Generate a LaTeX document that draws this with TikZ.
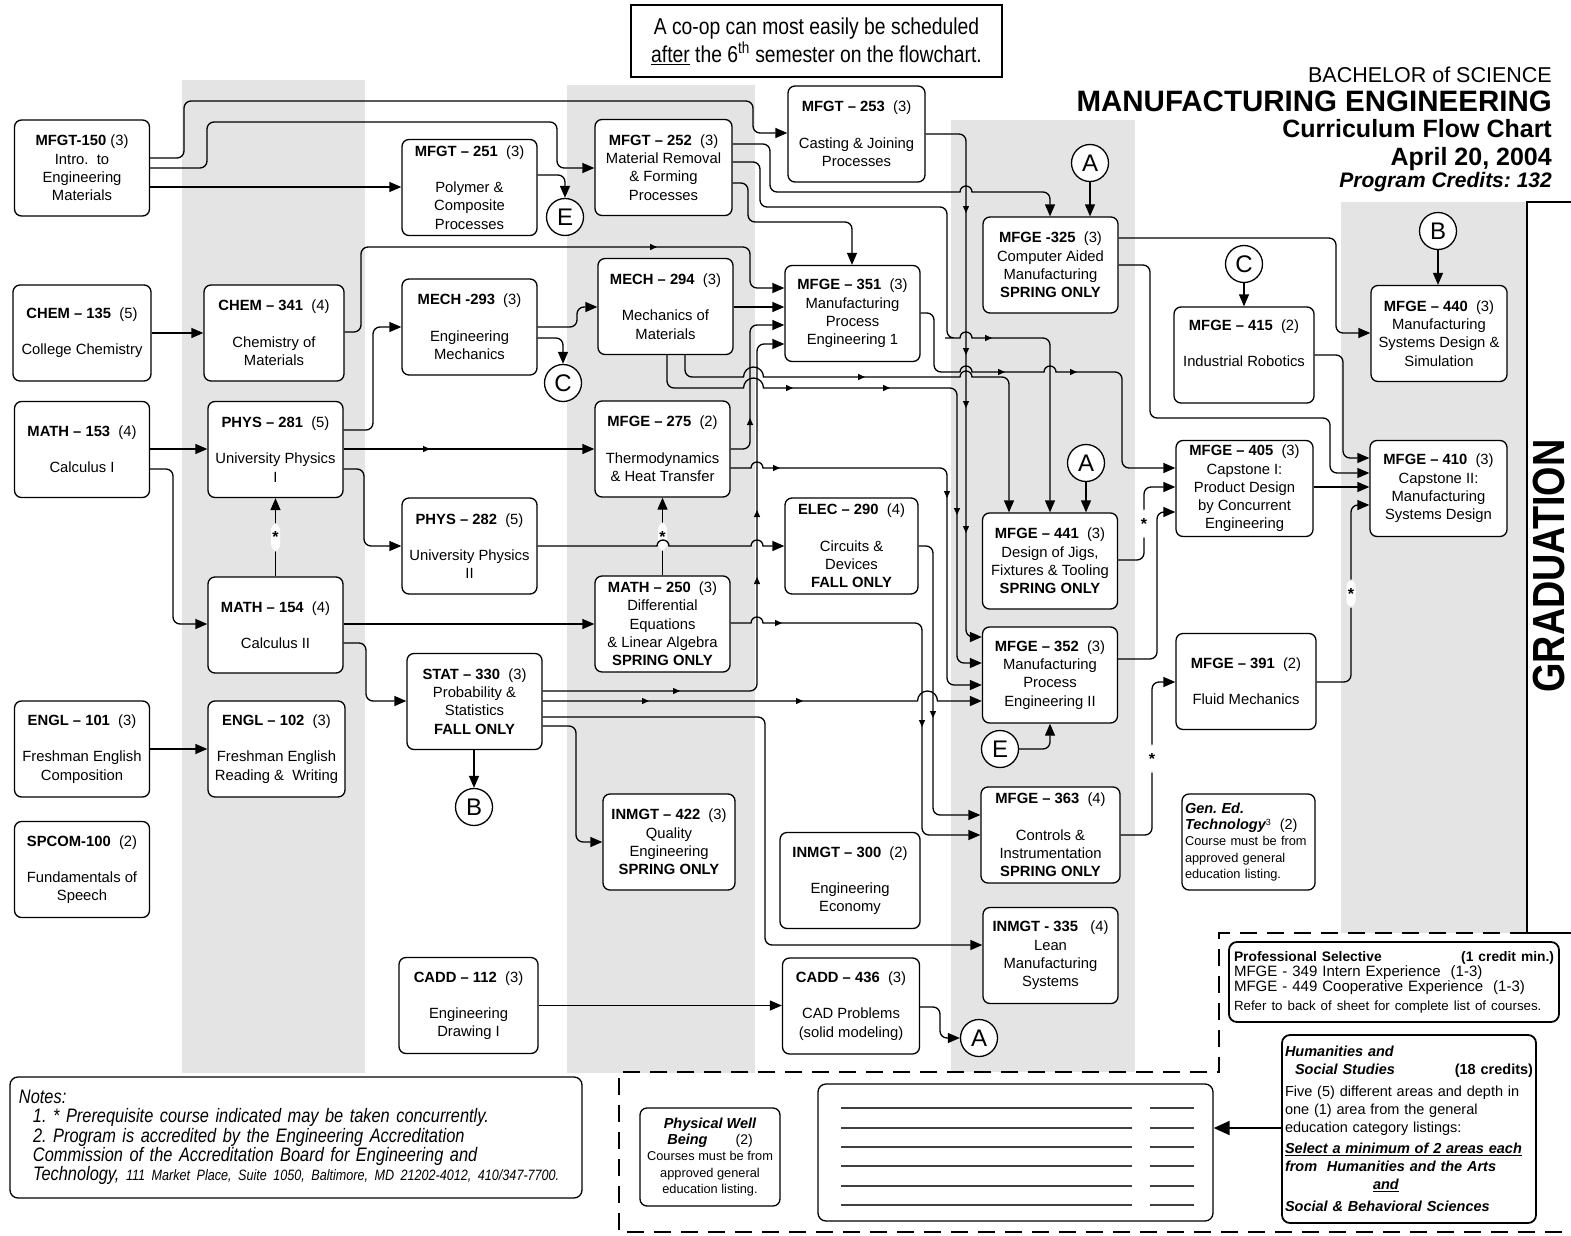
\documentclass[tikz,border=0pt]{standalone}
\usepackage{fontspec}
\setmainfont{Liberation Sans}
\newfontfamily\narrowfont[FakeStretch=0.84]{Liberation Sans}
\usetikzlibrary{arrows.meta}
\frenchspacing

\definecolor{bandgray}{RGB}{228,228,228}
\newcommand{\boxfont}{\fontsize{14.8}{18.3}\selectfont}
\newcommand{\hd}[2]{\textbf{#1}\ \ (#2)}
\newcommand{\bfit}{\fontsize{14.5}{16}\selectfont\bfseries\itshape}
% little bumps where a line jumps over another one
\newcommand{\hopover}[2]{-- (#1-14,#2) [sharp corners] -- (#1-6,#2) arc[start angle=180,end angle=0,radius=6pt] -- (#1+14,#2) [rounded corners=7pt]}
\newcommand{\widehopover}[2]{-- (#1-18,#2) [sharp corners] -- (#1-10,#2) arc[start angle=180,end angle=0,radius=10pt] -- (#1+18,#2) [rounded corners=7pt]}

\tikzset{
  course/.style={draw, line width=1.3pt, rounded corners=7pt, fill=white, align=center, inner sep=0pt,
    minimum width=135pt, minimum height=96pt, font=\boxfont},
  ring/.style={draw, circle, line width=1.3pt, fill=white, inner sep=0pt, minimum size=37pt,
    font=\fontsize{24}{24}\selectfont},
  prereq/.style={line width=1.3pt, rounded corners=7pt, -{Triangle[length=12pt,width=10pt]}},
  midtip/.style={line width=1.3pt, -{Triangle[length=7pt,width=6pt]}},
  conc/.style={fill=white, inner sep=0pt, minimum width=9pt, minimum height=28pt,
    font=\bfseries\fontsize{16}{16}\selectfont},
}

\begin{document}
\begin{tikzpicture}[x=1pt, y=-1pt]
\useasboundingbox (0,0) rectangle (1571,1236);

% semester bands
\fill[bandgray] (182,80) rectangle (365,1073);
\fill[bandgray] (567,85) rectangle (755,1073);
\fill[bandgray] (951,120) rectangle (1135,1072);
\fill[bandgray] (1341,202) rectangle (1527,933);

% electives region and graduation frame
\draw[line width=2.6pt, dash pattern=on 17pt off 10pt] (1527,933) -- (1219,933) -- (1219,1072) -- (619,1072) -- (619,1232) -- (1571,1232);
\draw[line width=2.6pt] (1571,202) -- (1527,202) -- (1527,933) -- (1571,933);
\node[rotate=90, font=\narrowfont\bfseries\fontsize{45}{45}\selectfont] (grad) at (1549,566) {GRADUATION};

% title
\node[draw, line width=1.8pt, minimum width=371pt, minimum height=72pt, inner sep=0pt, align=center,
  font=\narrowfont\fontsize{23}{28}\selectfont] (coop) at (816.5,41)
  {A co-op can most easily be scheduled\\ \underline{after} the 6\textsuperscript{th} semester on the flowchart.};
\node[anchor=base east, inner sep=0pt, font=\fontsize{21.5}{24}\selectfont] (degree) at (1552,83) {BACHELOR of SCIENCE};
\node[anchor=base east, inner sep=0pt, font=\fontsize{29.5}{32}\selectfont\bfseries] (major) at (1552,112) {MANUFACTURING ENGINEERING};
\node[anchor=base east, inner sep=0pt, font=\fontsize{25}{28}\selectfont\bfseries] (chart) at (1552,138) {Curriculum Flow Chart};
\node[anchor=base east, inner sep=0pt, font=\fontsize{25}{28}\selectfont\bfseries] (date) at (1552,165) {April 20, 2004};
\node[anchor=base east, inner sep=0pt, font=\fontsize{21}{24}\selectfont\bfseries\itshape] (credits) at (1552,187) {Program Credits: 132};

% first column
\node[course] (m150) at (82,168) {\textbf{MFGT-150} (3)\\ Intro.\ \ to\\ Engineering\\ Materials};
\node[course, minimum width=138pt] (m135) at (82,333) {\hd{CHEM – 135}{5}\\[18pt] College Chemistry};
\node[course] (m153) at (82,449.5) {\hd{MATH – 153}{4}\\[18pt] Calculus I};
\node[course] (m101) at (82,749) {\hd{ENGL – 101}{3}\\[18pt] Freshman English\\ Composition};
\node[course] (m100) at (82,869.5) {\hd{SPCOM-100}{2}\\[18pt] Fundamentals of\\ Speech};

% second column
\node[course, minimum width=140pt] (m341) at (274,333) {\hd{CHEM – 341}{4}\\[18pt] Chemistry of\\ Materials};
\node[course] (m281) at (275.5,449.5) {\hd{PHYS – 281}{5}\\[18pt] University Physics\\ I};
\node[course] (m154) at (275.5,625) {\hd{MATH – 154}{4}\\[18pt] Calculus II};
\node[course, minimum width=137pt] (m102) at (276.5,749) {\hd{ENGL – 102}{3}\\[18pt] Freshman English\\ Reading \&\ \ Writing};

% third column
\node[course] (m251) at (469.5,187.5) {\hd{MFGT – 251}{3}\\[18pt] Polymer \&\\ Composite\\ Processes};
\node[course] (m293) at (469.5,327) {\hd{MECH -293}{3}\\[18pt] Engineering\\ Mechanics};
\node[course] (m282) at (469.5,546) {\hd{PHYS – 282}{5}\\[18pt] University Physics\\ II};
\node[course] (m330) at (474.5,701.5) {\hd{STAT – 330}{3}\\ Probability \&\\ Statistics\\ \textbf{FALL ONLY}};
\node[course, minimum width=139pt] (m112) at (468.5,1005.5) {\hd{CADD – 112}{3}\\[18pt] Engineering\\ Drawing I};

% fourth column
\node[course, minimum width=137pt] (m252) at (663.5,167.5) {\hd{MFGT – 252}{3}\\ Material Removal\\ \& Forming\\ Processes};
\node[course] (m294) at (665.5,306.5) {\hd{MECH – 294}{3}\\[18pt] Mechanics of\\ Materials};
\node[course] (m275) at (662.5,449) {\hd{MFGE – 275}{2}\\[18pt] Thermodynamics\\ \& Heat Transfer};
\node[course] (m250) at (662.5,624) {\hd{MATH – 250}{3}\\ Differential\\ Equations\\ \& Linear Algebra\\ \textbf{SPRING ONLY}};
\node[course, minimum width=132pt] (m422) at (669,842) {\hd{INMGT – 422}{3}\\ Quality\\ Engineering\\ \textbf{SPRING ONLY}};

% fifth column
\node[course, minimum width=137pt] (m253) at (856.5,134) {\hd{MFGT – 253}{3}\\[18pt] Casting \& Joining\\ Processes};
\node[course] (m351) at (852.5,313.5) {\hd{MFGE – 351}{3}\\ Manufacturing\\ Process\\ Engineering 1};
\node[course, minimum width=133pt] (m290) at (851.5,546) {\hd{ELEC – 290}{4}\\[18pt] Circuits \&\\ Devices\\ \textbf{FALL ONLY}};
\node[course, minimum width=140pt] (m300) at (850,880.5) {\hd{INMGT – 300}{2}\\[18pt] Engineering\\ Economy};
\node[course, minimum width=137pt] (m436) at (851,1006) {\hd{CADD – 436}{3}\\[18pt] CAD Problems\\ (solid modeling)};

% sixth column
\node[course] (m325) at (1050.5,265) {\hd{MFGE -325}{3}\\ Computer Aided\\ Manufacturing\\ \textbf{SPRING ONLY}};
\node[course] (m441) at (1050,561) {\hd{MFGE – 441}{3}\\ Design of Jigs,\\ Fixtures \& Tooling\\ \textbf{SPRING ONLY}};
\node[course] (m352) at (1050,675) {\hd{MFGE – 352}{3}\\ Manufacturing\\ Process\\ Engineering II};
\node[course, minimum width=139pt] (m363) at (1050.5,835) {\hd{MFGE – 363}{4}\\[18pt] Controls \&\\ Instrumentation\\ \textbf{SPRING ONLY}};
\node[course] (m335) at (1050.5,955.5) {\textbf{INMGT - 335}\ \ \ (4)\\ Lean\\ Manufacturing\\ Systems};

% seventh column
\node[course, minimum width=140pt] (m415) at (1244,355) {\hd{MFGE – 415}{2}\\[18pt] Industrial Robotics\\ \strut};
\node[course, minimum width=137pt] (m405) at (1244.5,488.5) {\hd{MFGE – 405}{3}\\ Capstone I:\\ Product Design\\ by Concurrent\\ Engineering};
\node[course, minimum width=140pt] (m391) at (1246,681.5) {\hd{MFGE – 391}{2}\\[18pt] Fluid Mechanics};
\node[course, minimum width=133pt, text width=127pt, inner xsep=3pt, align=left, font=\fontsize{12.8}{16.3}\selectfont] (gened) at (1248.5,842)
  {{\bfit Gen. Ed.}\\ {\bfit Technology}\textsuperscript{3}\ \ {\fontsize{14.5}{16}\selectfont (2)}\\ Course must be from\\ approved general\\ education listing.};

% last column
\node[course, minimum width=136pt] (m440) at (1439,333.5) {\hd{MFGE – 440}{3}\\ Manufacturing\\ Systems Design \&\\ Simulation};
\node[course, minimum width=137pt] (m410) at (1438.5,488.5) {\hd{MFGE – 410}{3}\\ Capstone II:\\ Manufacturing\\ Systems Design};

% connector letters
\node[ring] (e1) at (565,217) {E};
\node[ring] (c1) at (563,383) {C};
\node[ring] (b2) at (474,807) {B};
\node[ring] (a1) at (1090,163) {A};
\node[ring] (a2) at (1086,463) {A};
\node[ring] (e2) at (1000,749) {E};
\node[ring] (a3) at (979,1038) {A};
\node[ring] (c2) at (1244,264) {C};
\node[ring] (b1) at (1438,231) {B};

% electives
\node[draw, line width=1.8pt, rounded corners=8pt, minimum width=330pt, minimum height=80pt, text width=320pt, inner xsep=5pt,
  align=left, font=\fontsize{15}{15.3}\selectfont] (prof) at (1394,982)
  {{\fontsize{13.8}{15}\selectfont\bfseries Professional Selective\hfill (1 credit min.)}\\
   MFGE - 349 Intern Experience\ \ (1-3)\\
   MFGE - 449 Cooperative Experience\ \ (1-3)\\[3pt]
   {\fontsize{13.3}{15}\selectfont Refer to back of sheet for complete list of courses.}};
\node[course, minimum width=140pt, minimum height=98pt, font=\fontsize{12.8}{16.3}\selectfont] (well) at (710,1157)
  {{\bfit Physical Well}\\ {\bfit Being}\hspace{28pt}{\fontsize{14}{16}\selectfont (2)}\\ Courses must be from\\ approved general\\ education listing.};
\node[draw, line width=1.3pt, rounded corners=8pt, minimum width=395pt, minimum height=137pt, inner sep=0pt] (blank) at (1015.5,1152.5) {};
\draw[line width=2pt, black!75] (841,1108) -- (1132,1108) (1150,1108) -- (1194,1108);
\draw[line width=2pt, black!75] (841,1128) -- (1132,1128) (1150,1128) -- (1194,1128);
\draw[line width=2pt, black!75] (841,1147) -- (1132,1147) (1150,1147) -- (1194,1147);
\draw[line width=2pt, black!75] (841,1166) -- (1132,1166) (1150,1166) -- (1194,1166);
\draw[line width=2pt, black!75] (841,1186) -- (1132,1186) (1150,1186) -- (1194,1186);
\draw[line width=2pt, black!75] (841,1205) -- (1132,1205) (1150,1205) -- (1194,1205);
\node[draw, line width=1.8pt, rounded corners=8pt, minimum width=254pt, minimum height=188pt, text width=248pt, inner xsep=3pt,
  align=left, font=\fontsize{14.5}{18}\selectfont] (hum) at (1409,1129)
  {\textbf{\textit{Humanities and}}\\
   \hspace*{10pt}\textbf{\textit{Social Studies}}\hfill\textbf{(18 credits)}\\[4pt]
   Five (5) different areas and depth in\\
   one (1) area from the general\\
   education category listings:\\[3pt]
   \underline{\textbf{\textit{Select a minimum of 2 areas each}}}\\
   \textbf{\textit{from\ \ Humanities and the Arts}}\\
   \hspace*{88pt}\underline{\textbf{\textit{and}}}\\[4pt]
   \textbf{\textit{Social \& Behavioral Sciences}}};
\draw[line width=2pt, -{Triangle[length=16pt,width=14pt]}] (hum.west |- 0,1128) -- (blank.east |- 0,1128);

% notes
\node[draw, line width=1.3pt, rounded corners=8pt, minimum width=572pt, minimum height=121pt, text width=554pt, inner xsep=9pt,
  align=left, font=\narrowfont\itshape\fontsize{19.5}{19.3}\selectfont] (notes) at (296,1137.5)
  {Notes:\\
   \hspace*{14pt}1. * Prerequisite course indicated may be taken concurrently.\\
   \hspace*{14pt}2. Program is accredited by the Engineering Accreditation\\
   \hspace*{14pt}Commission of the Accreditation Board for Engineering and\\
   \hspace*{14pt}Technology, {\fontsize{15}{19.3}\selectfont 111 Market Place, Suite 1050, Baltimore, MD 21202-4012, 410/347-7700.}};

% prerequisite lines
\draw[prereq] (m150.east |- 0,158) -- (184,158) -- (184,101) -- (753,101) -- (753,133) -- (m253.west |- 0,133);
\draw[prereq] (m150.east |- 0,168) -- (207,168) -- (207,122) -- (557,122) -- (557,168) -- (m252.west |- 0,168);
\draw[prereq] (m150.east |- 0,187) -- (m251.west |- 0,187);
\draw[prereq] (m135) -- (m341);
\draw[prereq] (m101) -- (m102);
\draw[prereq] (m153.east |- 0,449) -- (m281.west |- 0,449);
\draw[prereq] (m153.east |- 0,469) -- (173,469) -- (173,624) -- (m154.west |- 0,624);
\draw[prereq] (m154) -- node[conc]{*} (m281);
\draw[prereq] (m154.east |- 0,624) -- (m250.west |- 0,624);
\draw[prereq] (m154.east |- 0,643) -- (366,643) -- (366,701) -- (m330.west |- 0,701);
\draw[prereq] (m281.east |- 0,430) -- (373,430) -- (373,327) -- (m293.west |- 0,327);
\draw[prereq] (m281.east |- 0,449) -- (m275.west |- 0,449);
\draw[prereq] (m281.east |- 0,469) -- (364,469) -- (364,546) -- (m282.west |- 0,546);
\draw[prereq] (m341.east |- 0,332) -- (361,332) -- (361,247) -- (750,247) -- (750,288) -- (m351.west |- 0,288);
\draw[prereq] (m251.east |- 0,175) -| (e1);
\draw[prereq] (m293.east |- 0,327) -- (577,327) -- (577,307) -- (m294.west |- 0,307);
\draw[prereq] (m293.east |- 0,338) -| (c1);
\draw[prereq] (m294.east |- 0,307) -- (m351.west |- 0,307);
\draw[prereq] (m250) -- node[conc]{*} (m275);

\draw[prereq] (m252.east |- 0,144) -- (770,144) -- (770,192) \hopover{966}{192} -- (1050,192) -- (m325.north -| 1050,0);
\draw[prereq] (m252.east |- 0,162) -- (760,162) -- (760,207) -- (947,207) -- (947,338) \hopover{966}{338} -- (1050,338) -- (m441.north -| 1050,0);
\draw[prereq] (m252.east |- 0,183) -- (748,183) -- (748,222) -- (852,222) -- (m351.north -| 852,0);
\draw[prereq] (m253.east |- 0,134) -- (966,134) -- (966,637) -- (m352.west |- 0,637);
\draw[prereq] (m294.south -| 685,0) -- (685,377) \widehopover{753.5}{377} \hopover{966}{377} -- (1009,377) -- (m441.north -| 1009,0);
\draw[prereq] (m294.south -| 667,0) -- (667,388) \widehopover{753.5}{388} -- (957,388) -- (957,663) -- (m352.west |- 0,663);
\draw[prereq] (m275.east |- 0,449) -- (750,449) -- (750,325) -- (m351.west |- 0,325);
\draw[prereq] (m275.east |- 0,468) \hopover{757}{468} -- (947,468) -- (947,685) -- (m352.west |- 0,685);
\draw[prereq] (m330.east |- 0,691) -- (757,691) -- (757,344) -- (m351.west |- 0,344);
\draw[prereq] (m330.east |- 0,701) \widehopover{927.5}{701} -- (m352.west |- 0,701);
\draw[prereq] (m330.east |- 0,717) -- (765,717) -- (765,945) -- (m335.west |- 0,945);
\draw[prereq] (m330.east |- 0,726) -- (576,726) -- (576,842) -- (m422.west |- 0,842);
\draw[prereq] (m330.south -| b2) -- (b2);
\draw[prereq] (m282.east |- 0,546) \hopover{663}{546} \hopover{757}{546} -- (m290.west |- 0,546);
\draw[prereq] (m250.east |- 0,623) \hopover{757}{623} -- (922,623) -- (922,835) -- (m363.west |- 0,835);
\draw[prereq] (m290.east |- 0,546) -- (933,546) -- (933,815) -- (m363.west |- 0,815);
\draw[prereq] (m112.east) -- (m112.east -| m436.west);
\draw[prereq] (m436.east |- 0,1007) -- (940,1007) |- (a3);

\draw[prereq] (m351.east |- 0,313) -- (934,313) -- (934,372) \hopover{966}{372} \hopover{1050}{372} -- (1122,372) -- (1122,468) -- (m405.west |- 0,468);
\draw[prereq] (a1) -- (a1 |- m325.north);
\draw[prereq] (a2) -- (a2 |- m441.north);
\draw[prereq] (e2) -| (m352.south);
\draw[prereq] (m441.east |- 0,560) -- (1144,560) -- node[conc]{*} (1144,487) -- (m405.west |- 0,487);
\draw[prereq] (m352.east |- 0,659) -- (1157,659) -- (1157,512) -- (m405.west |- 0,512);
\draw[prereq] (m363.east |- 0,835) -- (1152,835) -- node[conc]{*} (1152,682) -- (m391.west |- 0,682);
\draw[prereq] (m325.east |- 0,238) -- (1336,238) -- (1336,333) -- (m440.west |- 0,333);
\draw[prereq] (m325.east |- 0,265) -- (1150,265) -- (1150,418) -- (1330,418) -- (1330,473) -- (m410.west |- 0,473);
\draw[prereq] (c2) -- (c2 |- m415.north);
\draw[prereq] (m415.east |- 0,355) -- (1343,355) -- (1343,458) -- (m410.west |- 0,458);
\draw[prereq] (m405.east |- 0,487) -- (m410.west |- 0,487);
\draw[prereq] (m391.east |- 0,682) -- (1351,682) -- node[conc]{*} (1351,505) -- (m410.west |- 0,505);
\draw[prereq] (b1) -- (b1 |- m440.north);

% arrow marks along the lines
\draw[midtip] (653,247) -- (657,247);
\draw[midtip] (426,449) -- (430,449);
\draw[midtip] (861,377) -- (865,377);
\draw[midtip] (789,388) -- (793,388);
\draw[midtip] (886,388) -- (890,388);
\draw[midtip] (988,338) -- (992,338);
\draw[midtip] (1001,372) -- (1005,372);
\draw[midtip] (1073,372) -- (1077,372);
\draw[midtip] (776,468) -- (780,468);
\draw[midtip] (778,623) -- (782,623);
\draw[midtip] (676,691) -- (680,691);
\draw[midtip] (645,701) -- (649,701);
\draw[midtip] (799,701) -- (803,701);
\draw[midtip] (966,209) -- (966,213);
\draw[midtip] (966,351) -- (966,355);
\draw[midtip] (966,404) -- (966,408);
\draw[midtip] (966,529) -- (966,533);
\draw[midtip] (947,494) -- (947,498);
\draw[midtip] (957,511) -- (957,515);
\draw[midtip] (922,723) -- (922,727);
\draw[midtip] (933,714) -- (933,718);
\draw[midtip] (750,422) -- (750,418);
\draw[midtip] (757,514) -- (757,510);
\draw[midtip] (757,581) -- (757,577);
\end{tikzpicture}
\end{document}
